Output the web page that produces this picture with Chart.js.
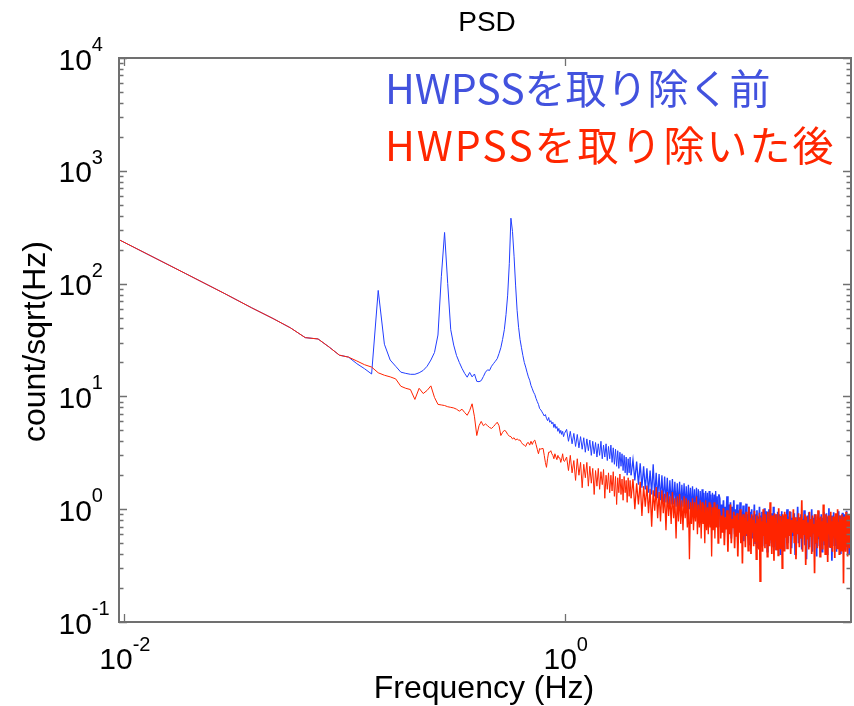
<!DOCTYPE html>
<html>
<head>
<meta charset="utf-8">
<script src="https://cdn.jsdelivr.net/npm/chart.js@4"></script>
<style>
  html, body { margin: 0; padding: 0; background: #ffffff; }
  canvas { display: block; }
</style>
</head>
<body>
<canvas id="psd" width="854" height="706"></canvas>
<script>
// Frequency bins (Hz): fine bins up to 1 Hz, coarser sampling above
const freqLow = [
  0.0095,0.019,0.0285,0.038,0.0475,0.057,0.0665,0.076,0.0855,0.095,
  0.1045,0.114,0.1235,0.133,0.1425,0.152,0.1615,0.171,0.1805,0.19,
  0.1995,0.209,0.2185,0.228,0.2375,0.247,0.2565,0.266,0.2755,0.285,
  0.2945,0.304,0.3135,0.323,0.3325,0.342,0.3515,0.361,0.3705,0.38,
  0.3895,0.399,0.4085,0.418,0.4275,0.437,0.4465,0.456,0.4655,0.475,
  0.4845,0.494,0.5035,0.513,0.5225,0.532,0.5415,0.551,0.5605,0.57,
  0.5795,0.589,0.5985,0.608,0.6175,0.627,0.6365,0.646,0.6555,0.665,
  0.6745,0.684,0.6935,0.703,0.7125,0.722,0.7315,0.741,0.7505,0.76,
  0.7695,0.779,0.7885,0.798,0.8075,0.817,0.8265,0.836,0.8455,0.855,
  0.8645,0.874,0.8835,0.893,0.9025,0.912,0.9215,0.931,0.9405,0.95,
  0.9595,0.969,0.9785,0.988,0.9975
];
const freqHigh = [
  // 1 - 2 Hz
  1.02,1.04,1.06,1.08,1.1,1.12,1.14,1.16,1.18,1.2,
  1.22,1.24,1.26,1.28,1.3,1.32,1.34,1.36,1.38,1.4,
  1.42,1.44,1.46,1.48,1.5,1.52,1.54,1.56,1.58,1.6,
  1.62,1.64,1.66,1.68,1.7,1.72,1.74,1.76,1.78,1.8,
  1.82,1.84,1.86,1.88,1.9,1.92,1.94,1.96,1.98,2.0,
  // 2 - 5 Hz
  2.04,2.08,2.12,2.16,2.2,2.24,2.28,2.32,2.36,2.4,
  2.44,2.48,2.52,2.56,2.6,2.64,2.68,2.72,2.76,2.8,
  2.84,2.88,2.92,2.96,3.0,3.04,3.08,3.12,3.16,3.2,
  3.24,3.28,3.32,3.36,3.4,3.44,3.48,3.52,3.56,3.6,
  3.64,3.68,3.72,3.76,3.8,3.84,3.88,3.92,3.96,4.0,
  4.04,4.08,4.12,4.16,4.2,4.24,4.28,4.32,4.36,4.4,
  4.44,4.48,4.52,4.56,4.6,4.64,4.68,4.72,4.76,4.8,
  4.84,4.88,4.92,4.96,5.0,
  // 5 - 10 Hz
  5.05,5.1,5.15,5.2,5.25,5.3,5.35,5.4,5.45,5.5,
  5.55,5.6,5.65,5.7,5.75,5.8,5.85,5.9,5.95,6.0,
  6.05,6.1,6.15,6.2,6.25,6.3,6.35,6.4,6.45,6.5,
  6.55,6.6,6.65,6.7,6.75,6.8,6.85,6.9,6.95,7.0,
  7.05,7.1,7.15,7.2,7.25,7.3,7.35,7.4,7.45,7.5,
  7.55,7.6,7.65,7.7,7.75,7.8,7.85,7.9,7.95,8.0,
  8.05,8.1,8.15,8.2,8.25,8.3,8.35,8.4,8.45,8.5,
  8.55,8.6,8.65,8.7,8.75,8.8,8.85,8.9,8.95,9.0,
  9.05,9.1,9.15,9.2,9.25,9.3,9.35,9.4,9.45,9.5,
  9.55,9.6,9.65,9.7,9.75,9.8,9.85,9.9,9.95,10.0,
  // 10 - 20 Hz
  10.1,10.2,10.3,10.4,10.5,10.6,10.7,10.8,10.9,11.0,
  11.1,11.2,11.3,11.4,11.5,11.6,11.7,11.8,11.9,12.0,
  12.1,12.2,12.3,12.4,12.5,12.6,12.7,12.8,12.9,13.0,
  13.1,13.2,13.3,13.4,13.5,13.6,13.7,13.8,13.9,14.0,
  14.1,14.2,14.3,14.4,14.5,14.6,14.7,14.8,14.9,15.0,
  15.1,15.2,15.3,15.4,15.5,15.6,15.7,15.8,15.9,16.0,
  16.1,16.2,16.3,16.4,16.5,16.6,16.7,16.8,16.9,17.0,
  17.1,17.2,17.3,17.4,17.5,17.6,17.7,17.8,17.9,18.0,
  18.1,18.2,18.3,18.4,18.5,18.6,18.7,18.8,18.9,19.0,
  19.1,19.2,19.3,19.4,19.5,19.6,19.7,19.8,19.9
];

// Spectrum before removing HWPSS (count/sqrt(Hz))
const blueLow = [
  245,123,82,61,49,40.5,33.2,32.3,27.3,23.2,
  22.3,19.5,17.6,15.8,87,29,21,18.5,16.4,16.0,
  15.7,15.7,16.2,17.0,18.5,21,24.5,35,115,284,
  100,39,28.5,23,20,17.7,16.0,14.8,16.3,14.9,
  15.8,13.6,13.5,13.8,15.0,16.4,17.2,17.0,18.5,19.5,
  20.5,21.6,24,27,32,39,53,79,150,380,
  290,175,97,58,41,32,27,23,20,18.2,
  16.4,14.9,13.9,12.5,11.7,10.9,10.4,9.6,9.0,8.5,
  7.8,7.6,7.3,7.0,6.7,6.9,6.4,6.1,6.5,5.9,
  6.1,5.7,5.9,5.3,5.7,5.2,5.4,4.9,5.2,4.7,
  5.0,4.6,4.9,4.4,4.7
];
const blueHigh = [
  5.1,4.0,4.9,3.8,4.7,3.6,4.6,3.5,4.4,3.4,
  4.3,3.2,4.2,3.3,4.1,3.0,4.0,3.1,3.9,2.9,
  3.8,3.0,4.0,2.8,3.7,2.9,3.8,2.7,3.6,2.8,
  3.7,2.6,3.5,2.5,3.4,2.4,3.3,2.3,3.2,2.4,
  3.1,2.2,3.0,2.1,2.9,2.0,2.8,2.1,2.9,2.0,

  2.75,1.8,2.65,1.65,2.55,1.55,2.4,1.5,2.3,1.4,
  2.2,1.35,2.5,1.3,2.1,1.25,2.05,1.2,2.0,1.15,
  1.95,1.15,1.9,1.1,1.8,1.1,1.85,1.1,1.75,1.05,
  1.7,1.05,1.75,1.0,1.65,1.05,1.7,1.0,1.6,0.95,
  1.65,1.0,1.55,0.9,1.6,0.95,1.5,0.85,1.55,0.9,
  1.5,0.8,1.45,0.85,1.5,0.8,1.4,0.75,1.45,0.85,
  1.4,0.75,1.45,0.8,1.35,0.7,1.4,0.8,1.35,0.75,
  1.45,0.8,1.3,0.7,1.35,

  1.25,0.7,1.1,0.8,1.2,0.62,1.05,0.85,1.3,0.68,
  1.1,0.75,1.15,0.55,1.05,0.8,1.2,0.6,1.0,0.72,
  1.1,0.5,0.98,0.78,1.15,0.6,0.95,0.7,1.08,0.52,
  0.92,0.74,1.12,0.58,0.9,0.66,1.05,0.48,0.95,0.7,
  1.0,0.55,0.88,0.72,1.1,0.5,0.9,0.64,0.98,0.45,
  0.86,0.7,1.05,0.52,0.88,0.62,0.95,0.47,0.84,0.68,
  1.02,0.5,0.85,0.6,0.96,0.42,0.82,0.66,1.0,0.5,
  0.8,0.62,0.92,0.46,0.86,0.58,1.05,0.5,0.8,0.64,
  0.9,0.44,0.84,0.6,0.95,0.5,0.78,0.62,0.9,0.4,
  0.82,0.58,0.96,0.48,0.8,0.6,0.88,0.45,0.83,0.57,

  0.7,1.0,0.5,0.86,0.62,0.95,0.45,0.84,0.58,0.92,
  0.4,0.8,0.64,1.05,0.5,0.85,0.56,0.9,0.44,0.82,
  0.6,0.98,0.48,0.8,0.36,0.88,0.62,0.94,0.46,0.78,
  0.57,1.0,0.42,0.84,0.6,0.9,0.5,0.8,0.38,0.86,
  0.55,0.96,0.47,0.8,0.6,0.9,0.42,0.84,0.58,0.95,
  0.48,0.78,0.62,0.92,0.4,0.86,0.55,1.02,0.46,0.8,
  0.6,0.88,0.35,0.84,0.57,0.94,0.48,0.8,0.6,0.9,
  0.42,0.82,0.56,0.96,0.5,0.78,0.62,0.88,0.4,0.85,
  0.55,0.93,0.46,0.8,0.6,0.9,0.44,0.82,0.56,0.97,
  0.47,0.8,0.58,0.88,0.4,0.84,0.6,0.9,0.5
];

// Spectrum after removing HWPSS (count/sqrt(Hz))
const redLow = [
  245,123,82,61,49,40.5,33.2,32.3,27.3,23.2,
  22.3,20.6,19.1,18.2,16.2,15.4,14.9,14.3,12.3,11.8,
  11.5,9.4,11.8,10.6,11.3,12.4,9.8,8.5,8.4,8.3,
  8.1,8.0,7.9,7.7,7.4,7.7,7.2,6.8,7.5,8.6,
  6.6,4.5,5.5,6.0,5.5,5.7,5.5,5.3,5.2,5.4,
  5.65,5.9,5.5,4.5,4.8,5.0,4.9,4.6,4.45,4.4,
  4.2,4.3,4.1,4.2,4.1,4.1,3.9,3.75,3.7,3.6,
  3.85,3.9,3.7,4.0,3.75,4.0,4.1,3.75,3.4,3.1,
  3.45,3.4,3.45,3.45,3.0,2.6,2.35,2.8,3.2,3.2,
  3.3,3.1,3.0,2.8,3.1,2.9,2.75,3.0,2.85,2.85,
  2.6,2.8,3.1,2.7,2.65
];
const redHigh = [
  2.9,2.2,3.0,2.1,2.7,1.8,2.8,2.0,2.6,1.55,
  2.5,1.9,2.6,1.6,2.4,1.7,2.3,1.35,2.2,1.6,
  2.3,1.5,2.15,1.65,2.25,1.25,2.0,1.5,2.1,1.4,
  2.0,1.45,2.15,1.3,1.95,1.1,1.9,1.4,2.05,1.35,
  1.85,1.2,1.95,1.4,1.8,1.15,1.9,1.3,1.8,1.25,

  1.85,1.0,1.7,1.1,1.75,0.87,1.6,1.05,1.62,0.92,
  1.52,0.7,1.47,0.97,1.57,0.83,1.42,0.78,1.47,0.92,
  1.37,0.65,1.42,0.87,1.3,0.74,1.42,0.83,1.25,0.55,
  1.3,0.78,1.36,0.74,1.2,0.65,1.3,0.83,1.25,0.69,
  1.2,0.36,1.15,0.74,1.25,0.65,1.15,0.78,1.3,0.6,
  1.1,0.69,1.2,0.55,1.15,0.74,1.1,0.5,1.2,0.65,
  1.04,0.6,1.15,0.69,1.1,0.38,1.04,0.65,1.15,0.55,
  1.04,0.69,1.1,0.5,1.0,

  0.95,0.55,0.88,0.62,1.02,0.48,0.85,0.66,0.98,0.42,
  0.9,0.6,1.1,0.5,0.82,0.68,0.95,0.45,0.88,0.57,
  0.92,0.38,0.8,0.62,1.0,0.5,0.86,0.33,0.9,0.58,
  0.84,0.46,0.95,0.6,0.78,0.43,1.05,0.55,0.83,0.4,
  0.9,0.62,0.8,0.47,0.97,0.52,0.75,0.36,0.88,0.6,
  0.82,0.44,0.93,0.23,0.85,0.55,0.78,0.42,1.0,0.58,
  0.8,0.45,0.9,0.5,0.76,0.38,0.95,0.6,0.82,0.47,
  1.15,0.53,0.8,0.4,0.88,0.57,0.76,0.35,0.92,0.55,
  0.84,0.44,0.9,0.6,0.75,0.39,1.02,0.52,0.8,0.45,
  0.87,0.58,0.78,0.3,0.9,0.5,0.82,0.43,0.95,0.56,

  0.9,0.45,0.82,0.58,0.96,0.4,0.8,0.62,1.0,0.5,
  0.85,0.36,0.78,0.6,0.92,0.46,0.84,0.55,1.2,0.42,
  0.8,0.6,0.9,0.32,0.86,0.54,0.76,0.44,0.95,0.58,
  0.82,0.4,0.88,0.62,0.74,0.27,0.9,0.5,0.8,0.45,
  0.98,0.57,0.84,0.38,0.86,0.6,0.78,0.44,1.1,0.52,
  0.8,0.4,0.9,0.56,0.76,0.34,0.88,0.6,0.82,0.46,
  0.95,0.5,0.78,0.42,0.86,0.58,0.8,0.37,0.92,0.55,
  0.84,0.45,1.0,0.6,0.77,0.4,0.88,0.52,0.82,0.43,
  0.9,0.58,0.8,0.22,0.86,0.5,0.78,0.42,0.95,0.56,
  0.8,0.38,0.9,0.6,0.75,0.45,0.88,0.5,0.7
];

// Axis decades and labels
const xLabelExponents = [-2, 0];
const yLabelExponents = [-1, 0, 1, 2, 3, 4];
const seriesNames = ['HWPSSを取り除く前', 'HWPSSを取り除いた後'];
const titleText = 'PSD';
const xTitle = 'Frequency (Hz)';
const yTitle = 'count/sqrt(Hz)';

const freq = freqLow.concat(freqHigh);
const blue = blueLow.concat(blueHigh);
const red = redLow.concat(redHigh);
const toPoints = vals => freq.map((f, i) => ({ x: f, y: vals[i] }));

const BLUE_LINE = 'rgb(34,62,255)';
const RED_LINE = 'rgb(255,36,0)';
const BLUE_TEXT = 'rgb(66,82,222)';
const RED_TEXT = 'rgb(255,38,0)';
const SANS = '"Liberation Sans", Arial, sans-serif';
const CJK = '"Noto Sans CJK JP", "Noto Sans", sans-serif';

// The densely sampled high-frequency part is stroked a little heavier
const noiseWidth = c => {
  const f = c.p0.parsed.x;
  return f >= 5 ? 1.7 : f >= 2 ? 1.3 : 1;
};

// "10" with a raised exponent
function powerLabel(ctx, exp, x, baseline, align) {
  const base = '10', sup = String(exp);
  ctx.font = '30px ' + SANS;
  const wb = ctx.measureText(base).width;
  ctx.font = '20px ' + SANS;
  const ws = ctx.measureText(sup).width;
  const x0 = align === 'center' ? x - (wb + ws) / 2 : x;
  ctx.textAlign = 'left';
  ctx.textBaseline = 'alphabetic';
  ctx.font = '30px ' + SANS;
  ctx.fillText(base, x0, baseline);
  ctx.font = '20px ' + SANS;
  ctx.fillText(sup, x0 + wb, baseline - 18.5);
}

// Box frame with inward ticks, labels, titles and the coloured key
const frameAndText = {
  id: 'frameAndText',
  afterDraw(chart) {
    const { ctx, chartArea: a, scales: { x, y } } = chart;
    ctx.save();

    ctx.strokeStyle = '#707070';
    ctx.lineWidth = 2;
    ctx.strokeRect(a.left, a.top, a.right - a.left, a.bottom - a.top);

    ctx.lineWidth = 1.3;
    ctx.beginPath();
    for (let e = -1; e <= 4; e++) {
      for (let m = 1; m <= 9; m++) {
        const v = m * Math.pow(10, e);
        if (v > y.max * 1.0001) break;
        const py = Math.round(y.getPixelForValue(v)) + 0.5;
        const len = m === 1 ? 8 : 4.5;
        ctx.moveTo(a.left, py); ctx.lineTo(a.left + len, py);
        ctx.moveTo(a.right, py); ctx.lineTo(a.right - len, py);
      }
    }
    for (const e of xLabelExponents) {
      const px = Math.round(x.getPixelForValue(Math.pow(10, e))) + 0.5;
      ctx.moveTo(px, a.bottom); ctx.lineTo(px, a.bottom - 8);
      ctx.moveTo(px, a.top); ctx.lineTo(px, a.top + 8);
    }
    ctx.stroke();

    ctx.fillStyle = '#000000';
    for (const e of yLabelExponents) {
      const py = y.getPixelForValue(Math.pow(10, e));
      powerLabel(ctx, e, 58.5, py + 11.5, 'left');
    }
    for (const e of xLabelExponents) {
      const px = x.getPixelForValue(Math.pow(10, e));
      powerLabel(ctx, e, px + 1, 669, 'center');
    }

    ctx.textAlign = 'center';
    ctx.textBaseline = 'alphabetic';
    ctx.font = '28px ' + SANS;
    ctx.fillText(titleText, (a.left + a.right) / 2 + 2, 31);

    ctx.font = '32px ' + SANS;
    ctx.fillText(xTitle, 484, 698);

    ctx.save();
    ctx.translate(45, 341.5);
    ctx.rotate(-Math.PI / 2);
    ctx.fillText(yTitle, 0, 0);
    ctx.restore();

    ctx.textAlign = 'left';
    ctx.font = '41px ' + CJK;
    ctx.fillStyle = BLUE_TEXT;
    ctx.fillText(seriesNames[0], 385, 104);
    ctx.fillStyle = RED_TEXT;
    if ('letterSpacing' in ctx) ctx.letterSpacing = '2px';
    ctx.fillText(seriesNames[1], 385, 161);
    if ('letterSpacing' in ctx) ctx.letterSpacing = '0px';

    ctx.restore();
  }
};

new Chart(document.getElementById('psd'), {
  type: 'line',
  data: {
    datasets: [
      {
        label: seriesNames[1],
        data: toPoints(red),
        borderColor: RED_LINE,
        borderWidth: 1,
        pointRadius: 0,
        fill: false,
        order: 0,
        segment: { borderWidth: noiseWidth }
      },
      {
        label: seriesNames[0],
        data: toPoints(blue),
        borderColor: BLUE_LINE,
        borderWidth: 1,
        pointRadius: 0,
        fill: false,
        order: 1,
        segment: { borderWidth: noiseWidth }
      }
    ]
  },
  options: {
    responsive: false,
    animation: false,
    devicePixelRatio: 1,
    layout: { padding: { left: 119, right: 3, top: 58, bottom: 84 } },
    elements: { line: { tension: 0 } },
    plugins: {
      legend: { display: false },
      title: { display: false },
      tooltip: { enabled: false }
    },
    scales: {
      x: { type: 'logarithmic', min: 0.0095, max: 19.9, display: false },
      y: { type: 'logarithmic', min: 0.1, max: 10000, display: false }
    }
  },
  plugins: [frameAndText]
});
</script>
</body>
</html>
